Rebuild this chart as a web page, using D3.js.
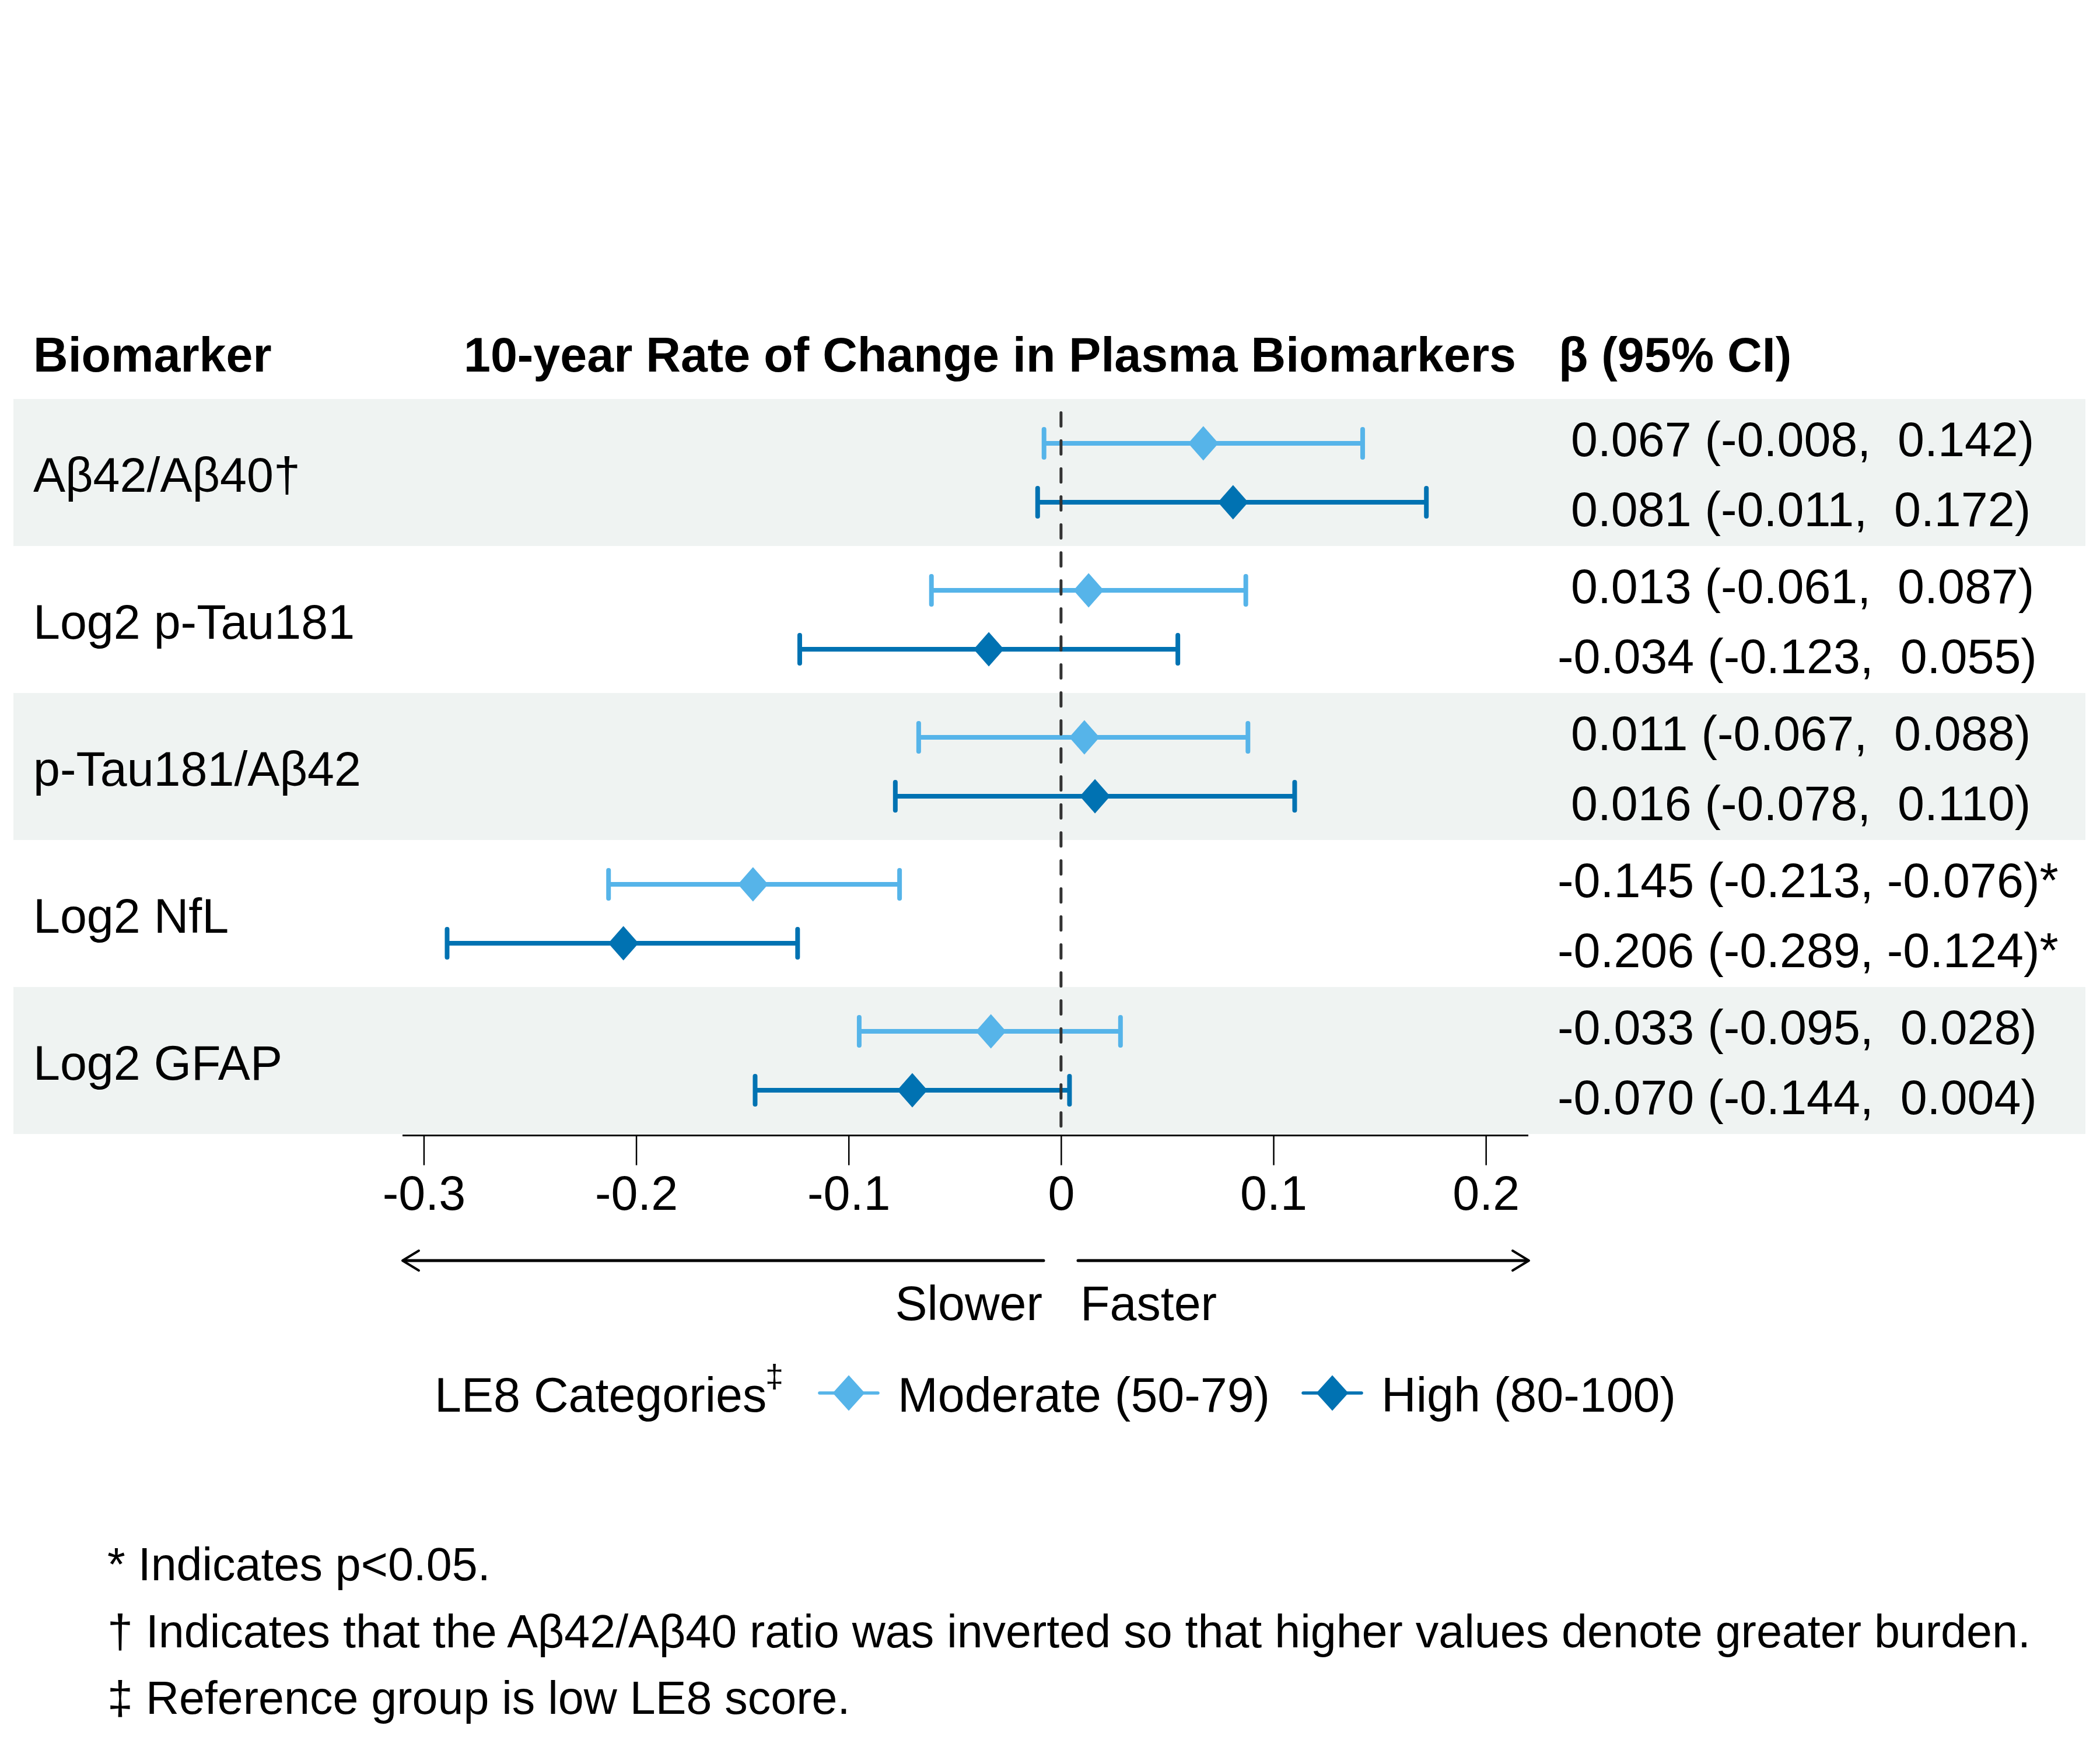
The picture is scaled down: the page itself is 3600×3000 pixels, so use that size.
<!DOCTYPE html>
<html>
<head>
<meta charset="utf-8">
<script src="https://cdn.jsdelivr.net/npm/d3@7"></script>
<style>
  html, body { margin: 0; padding: 0; background: #fff; }
  text { font-family: "Liberation Sans", Arial, sans-serif; fill: #000; white-space: pre; }
</style>
</head>
<body>
<div id="chart"></div>
<script>
/* ── Data ──────────────────────────────────────────────────────────────── */
const biomarkers   = ['Aβ42/Aβ40†', 'Log2 p-Tau181', 'p-Tau181/Aβ42', 'Log2 NfL', 'Log2 GFAP'];
const seriesNames  = ['Moderate (50-79)', 'High (80-100)'];

const moderateEst  = [0.067, 0.013, 0.011, -0.145, -0.033];
const moderateLo   = [-0.008, -0.061, -0.067, -0.213, -0.095];
const moderateHi   = [0.142, 0.087, 0.088, -0.076, 0.028];
const moderateSig  = [false, false, false, true, false];

const highEst      = [0.081, -0.034, 0.016, -0.206, -0.070];
const highLo       = [-0.011, -0.123, -0.078, -0.289, -0.144];
const highHi       = [0.172, 0.055, 0.110, -0.124, 0.004];
const highSig      = [false, false, false, true, false];

const xTicks       = [-0.3, -0.2, -0.1, 0, 0.1, 0.2];

const footnotes = [
  '* Indicates p<0.05.',
  '† Indicates that the Aβ42/Aβ40 ratio was inverted so that higher values denote greater burden.',
  '‡ Reference group is low LE8 score.'
];

/* ── Constants ─────────────────────────────────────────────────────────── */
const LIGHT = '#56B4E9';
const DARK  = '#0072B2';
const BAND  = '#EFF3F2';
const FS    = 82.6;

// Build rows from the arrays
const rows = [];
biomarkers.forEach((b, i) => {
  rows.push({ biomarker: b, series: seriesNames[0], color: LIGHT,
              est: moderateEst[i], lo: moderateLo[i], hi: moderateHi[i], sig: moderateSig[i] });
  rows.push({ biomarker: b, series: seriesNames[1], color: DARK,
              est: highEst[i], lo: highLo[i], hi: highHi[i], sig: highSig[i] });
});

function pad(v) {
  return (v < 0 ? '' : ' ') + v.toFixed(3);
}
function ciText(r) {
  return `${pad(r.est)} (${pad(r.lo)}, ${pad(r.hi)})${r.sig ? '*' : ''}`;
}

// diamond symbol
const diamond = (w, h) => ({
  draw(ctx) {
    ctx.moveTo(0, -h); ctx.lineTo(w, 0); ctx.lineTo(0, h); ctx.lineTo(-w, 0); ctx.closePath();
  }
});

/* ── Chart ─────────────────────────────────────────────────────────────── */
const W = 3600, H = 3000;
const svg = d3.select('#chart').append('svg')
  .attr('width', W).attr('height', H);

svg.append('rect').attr('width', W).attr('height', H).attr('fill', '#fff');

const x = d3.scaleLinear().domain([-0.31, 0.22]).range([690, 2620]);
const y = d3.scaleBand().domain(biomarkers).range([684, 1944]).padding(0);
const ySub = d3.scalePoint().domain(seriesNames).range([76, 177]);
const yText = d3.scalePoint().domain(seriesNames).range([98, 218]);

// Bands
svg.append('g').selectAll('rect')
  .data(biomarkers.filter((d, i) => i % 2 === 0))
  .join('rect')
    .attr('x', 23).attr('width', 3575 - 23)
    .attr('y', d => y(d)).attr('height', y.bandwidth())
    .attr('fill', BAND);

// Headers
const header = svg.append('g').style('font-weight', 'bold').style('font-size', FS + 'px');
header.append('text').attr('x', 57).attr('y', 637).text('Biomarker');
header.append('text').attr('x', 795).attr('y', 637).text('10-year Rate of Change in Plasma Biomarkers');
header.append('text').attr('x', 2672).attr('y', 637).text('β (95% CI)');

// Biomarker labels
svg.append('g').selectAll('text')
  .data(biomarkers)
  .join('text')
    .attr('x', 57)
    .attr('y', d => y(d) + 159)
    .style('font-size', FS + 'px')
    .text(d => d);

// CI lines
const yRow = r => y(r.biomarker) + ySub(r.series);
svg.append('g').selectAll('line')
  .data(rows)
  .join('line')
    .attr('x1', r => x(r.lo)).attr('x2', r => x(r.hi))
    .attr('y1', yRow).attr('y2', yRow)
    .attr('stroke', r => r.color).attr('stroke-width', 8);

// caps
const caps = svg.append('g');
['lo', 'hi'].forEach(k => {
  caps.selectAll('.cap-' + k)
    .data(rows)
    .join('line')
      .attr('class', 'cap-' + k)
      .attr('x1', r => x(r[k])).attr('x2', r => x(r[k]))
      .attr('y1', r => yRow(r) - 24).attr('y2', r => yRow(r) + 24)
      .attr('stroke', r => r.color).attr('stroke-width', 8)
      .attr('stroke-linecap', 'round');
});

// Zero reference line
svg.append('line')
  .attr('x1', x(0)).attr('x2', x(0))
  .attr('y1', 707.5).attr('y2', 1932)
  .attr('stroke', '#333').attr('stroke-width', 5)
  .attr('stroke-dasharray', '23 25')
  .attr('stroke-linecap', 'round');

// Diamonds
svg.append('g').selectAll('path')
  .data(rows)
  .join('path')
    .attr('transform', r => `translate(${x(r.est)},${yRow(r)})`)
    .attr('d', d3.symbol(diamond(26, 29.5))())
    .attr('fill', r => r.color);

// CI text
svg.append('g').selectAll('text')
  .data(rows)
  .join('text')
    .attr('x', 2670)
    .attr('y', r => y(r.biomarker) + yText(r.series))
    .style('font-size', FS + 'px')
    .text(ciText);

// X axis
const axis = svg.append('g')
  .attr('transform', 'translate(0,1946.5)')
  .call(d3.axisBottom(x).tickValues(xTicks).tickSize(51).tickPadding(18)
    .tickFormat(d => String(d)));
axis.select('.domain').attr('stroke', '#000').attr('stroke-width', 3)
  .attr('d', `M${x.range()[0]},0H${x.range()[1]}`);
axis.selectAll('.tick line').attr('stroke', '#000').attr('stroke-width', 2.5);
axis.selectAll('.tick text')
  .style('font-size', FS + 'px')
  .style('font-family', '"Liberation Sans", Arial, sans-serif')
  .attr('fill', '#000');

// Direction arrows
const ay = 2161;
const arrows = svg.append('g').attr('stroke', '#000').attr('fill', 'none')
  .attr('stroke-linecap', 'round').attr('stroke-linejoin', 'round');
arrows.append('line').attr('x1', 692).attr('x2', 1789).attr('y1', ay).attr('y2', ay).attr('stroke-width', 5);
arrows.append('path').attr('d', `M718,${ay - 17}L690,${ay}L718,${ay + 17}`).attr('stroke-width', 4);
arrows.append('line').attr('x1', 1848).attr('x2', 2619).attr('y1', ay).attr('y2', ay).attr('stroke-width', 5);
arrows.append('path').attr('d', `M2593,${ay - 17}L2621,${ay}L2593,${ay + 17}`).attr('stroke-width', 4);

svg.append('text').attr('x', 1787).attr('y', 2263).attr('text-anchor', 'end')
  .style('font-size', FS + 'px').text('Slower');
svg.append('text').attr('x', 1852).attr('y', 2263)
  .style('font-size', FS + 'px').text('Faster');

// Legend
const ly = 2388;
svg.append('text').attr('x', 745).attr('y', 2420).style('font-size', FS + 'px').text('LE8 Categories');
svg.append('text').attr('x', 1312).attr('y', 2378).style('font-size', '56px').text('‡');

const legendItems = [
  { name: seriesNames[0], color: LIGHT, cx: 1455, tx: 1539 },
  { name: seriesNames[1], color: DARK,  cx: 2284, tx: 2368 }
];
const leg = svg.append('g').selectAll('g').data(legendItems).join('g');
leg.append('line')
  .attr('x1', d => d.cx - 50).attr('x2', d => d.cx + 50)
  .attr('y1', ly).attr('y2', ly)
  .attr('stroke', d => d.color).attr('stroke-width', 5.5).attr('stroke-linecap', 'round');
leg.append('path')
  .attr('transform', d => `translate(${d.cx},${ly})`)
  .attr('d', d3.symbol(diamond(27.5, 30.5))())
  .attr('fill', d => d.color);
leg.append('text')
  .attr('x', d => d.tx).attr('y', 2420)
  .style('font-size', FS + 'px')
  .text(d => d.name);

// Footnotes
svg.append('g').selectAll('text')
  .data(footnotes)
  .join('text')
    .attr('x', 184)
    .attr('y', (d, i) => 2709 + i * 114.5)
    .style('font-size', '79px')
    .text(d => d);
</script>
</body>
</html>
